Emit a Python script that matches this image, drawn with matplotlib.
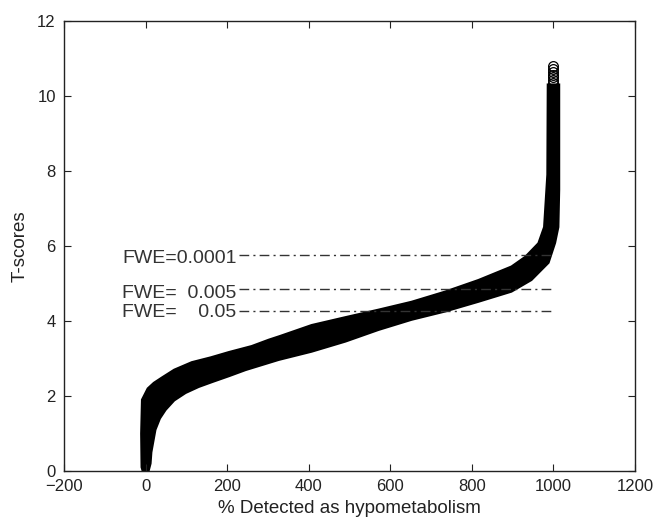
import matplotlib.pyplot as plt
import numpy as np

plt.rcParams['font.family'] = ['Liberation Sans', 'DejaVu Sans']

# Outline of the dense band of T-score markers
# upper/left envelope (from the bottom of the x=0 column to the top of the x=1000 column)
upper_x = [-4, -10, -11, -9, 5, 20, 41, 70, 113, 160, 204, 260, 302, 330, 407,
           490, 571, 652, 734, 816, 897, 931, 963, 977, 981, 985, 986]
upper_t = [-0.12, 0.1, 1.0, 1.9, 2.2, 2.35, 2.5, 2.7, 2.9, 3.03, 3.17, 3.33, 3.5, 3.6, 3.89,
           4.1, 4.3, 4.51, 4.78, 5.09, 5.45, 5.71, 6.07, 6.5, 7.2, 7.9, 10.3]
# lower/right envelope
lower_x = [-4, 6, 12, 14, 24, 35, 49, 70, 98, 130, 163, 205, 245, 326, 407,
           490, 571, 652, 734, 816, 897, 946, 988, 1004, 1012, 1014, 1014]
lower_t = [-0.12, -0.05, 0.2, 0.5, 1.1, 1.4, 1.63, 1.88, 2.08, 2.24, 2.37, 2.53, 2.69, 2.96, 3.18,
           3.45, 3.76, 4.03, 4.25, 4.51, 4.78, 5.09, 5.55, 6.08, 6.5, 7.5, 10.3]

# highest individual markers at the top of the column
top_x = [1000, 1000, 1000, 1000, 1000, 1000, 1000]
top_t = [10.78, 10.7, 10.63, 10.56, 10.49, 10.42, 10.35]

# FWE thresholds
fwe_labels = ['FWE=0.0001', 'FWE=  0.005', 'FWE=    0.05']
fwe_t = [5.76, 4.85, 4.27]
label_t = [5.66, 4.72, 4.22]
fwe_x0 = 230
fwe_x1 = 1000
label_x = -57

fig = plt.figure(figsize=(6.54, 5.23), dpi=100)
ax = fig.add_axes([0.098, 0.0994, 0.873, 0.861])

ax.fill(np.concatenate([upper_x, lower_x[::-1]]),
        np.concatenate([upper_t, lower_t[::-1]]),
        color='black', lw=1.5, ec='black')
ax.plot(top_x, top_t, 'o', mfc='none', mec='black', ms=7, mew=0.9)

for lab, t, lt in zip(fwe_labels, fwe_t, label_t):
    ax.plot([fwe_x0, fwe_x1], [t, t], color='#333333', lw=1.0, dashes=(7, 3, 1.5, 3))
    ax.text(label_x, lt, lab, ha='left', va='center', fontsize=14, color='#333333')

ax.set_xlim(-200, 1200)
ax.set_ylim(0, 12)
ax.set_xticks(np.arange(-200, 1201, 200))
ax.set_yticks(np.arange(0, 13, 2))
ax.tick_params(direction='in', top=True, right=True, length=5, labelsize=12,
               pad=6, colors='#222222')
for s in ax.spines.values():
    s.set_color('#222222')
    s.set_linewidth(1.0)

ax.set_xlabel('% Detected as hypometabolism', fontsize=13.5, color='#222222', labelpad=4)
ax.set_ylabel('T-scores', fontsize=13.5, color='#222222', labelpad=6)

fig.savefig('out.png', dpi=100)
